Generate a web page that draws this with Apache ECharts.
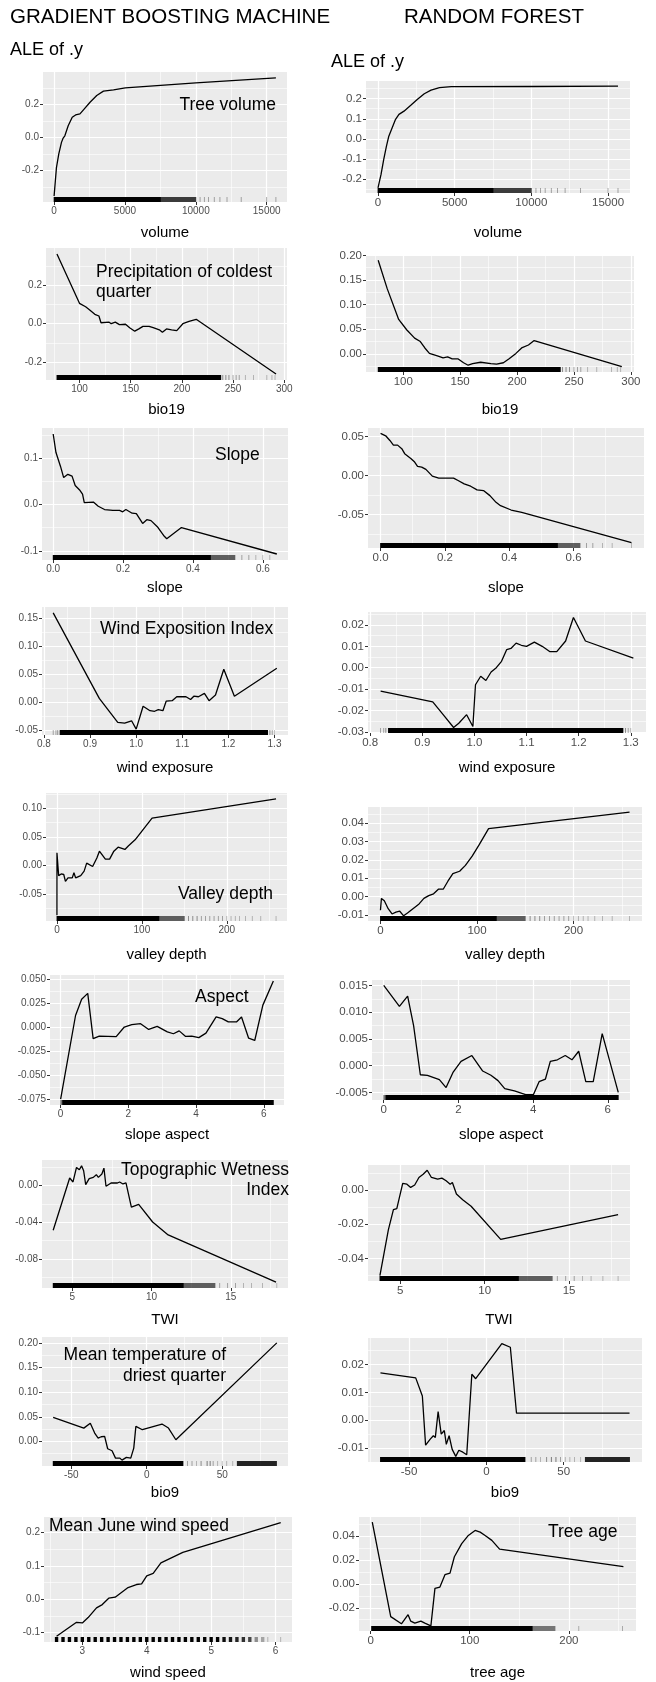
<!DOCTYPE html>
<html><head><meta charset="utf-8">
<script src="https://cdn.jsdelivr.net/npm/echarts@6/dist/echarts.min.js"></script>
<style>html,body{margin:0;padding:0;background:#fff}#c{width:656px;height:1682px}</style>
</head><body><div id="c"></div>
<script>
// ---------------- DATA ----------------
// Row 1: tree volume
const gbm_volume_x = [0, 166, 332, 521, 640, 758, 995, 1280, 1517, 1825, 2133, 2536, 3009, 3483, 4194, 5024, 10000, 15650];
const gbm_volume_y = [-0.355, -0.183, -0.1, -0.03, -0.004, 0.01, 0.071, 0.122, 0.136, 0.142, 0.173, 0.213, 0.254, 0.28, 0.288, 0.3, 0.33, 0.36];
const rf_volume_x = [0, 198, 374, 551, 705, 925, 1145, 1366, 1696, 2137, 2577, 3018, 3458, 4009, 4780, 10000, 15650];
const rf_volume_y = [-0.245, -0.178, -0.103, -0.037, 0.013, 0.055, 0.097, 0.122, 0.138, 0.167, 0.197, 0.225, 0.243, 0.255, 0.26, 0.261, 0.263];
const volume_xticks = ['0', '5000', '10000', '15000'];
const gbm_volume_yticks = ['-0.2', '0.0', '0.2'];
const rf_volume_yticks = ['-0.2', '-0.1', '0.0', '0.1', '0.2'];
const volume_rug = [[0, 7500, 1], [7500, 10000, 0.75], [10300, 10300, 0.4], [10600, 10600, 0.4], [10900, 10900, 0.4], [11300, 11300, 0.4], [11700, 11700, 0.4], [12200, 12200, 0.4], [13200, 13200, 0.4], [15000, 15000, 0.4], [15650, 15650, 0.4]];

// Row 2: bio19
const gbm_bio19_x = [78, 100, 106, 110, 115, 119, 121, 129, 131, 135, 139, 145, 149, 154, 158, 162, 168, 172, 178, 181, 185, 190, 195, 201, 207, 214, 292];
const gbm_bio19_y = [0.363, 0.106, 0.088, 0.071, 0.049, 0.04, 0.005, 0.008, 0.0, 0.008, -0.005, -0.003, -0.021, -0.039, -0.027, -0.014, -0.014, -0.021, -0.032, -0.045, -0.027, -0.032, -0.036, 0.0, 0.012, 0.023, -0.262];
const rf_bio19_x = [78, 86, 96, 103, 110, 115, 119, 123, 130, 135, 139, 143, 148, 153, 157, 161, 168, 177, 182, 188, 193, 199, 204, 210, 215, 292];
const rf_bio19_y = [0.19, 0.132, 0.07, 0.049, 0.032, 0.025, 0.012, 0.001, -0.004, -0.008, -0.006, -0.01, -0.01, -0.018, -0.023, -0.02, -0.017, -0.02, -0.021, -0.018, -0.01, 0.001, 0.012, 0.018, 0.027, -0.026];
const bio19_xticks = ['100', '150', '200', '250', '300'];
const gbm_bio19_yticks = ['-0.2', '0.0', '0.2'];
const rf_bio19_yticks = ['0.00', '0.05', '0.10', '0.15', '0.20'];
const bio19_rug = [[78, 238, 1], [240, 240, 0.5], [243, 243, 0.5], [246, 246, 0.5], [250, 250, 0.4], [253, 253, 0.4], [256, 256, 0.4], [262, 262, 0.3], [270, 270, 0.3], [283, 283, 0.3], [288, 288, 0.3], [291, 291, 0.3]];

// Row 3: slope
const gbm_slope_x = [0, 0.008, 0.021, 0.03, 0.042, 0.054, 0.063, 0.077, 0.084, 0.089, 0.115, 0.129, 0.147, 0.171, 0.19, 0.199, 0.208, 0.226, 0.238, 0.256, 0.268, 0.28, 0.298, 0.316, 0.325, 0.367, 0.64];
const gbm_slope_y = [0.152, 0.112, 0.082, 0.058, 0.065, 0.061, 0.041, 0.03, 0.022, 0.004, 0.005, -0.004, -0.011, -0.013, -0.013, -0.016, -0.011, -0.019, -0.02, -0.041, -0.033, -0.035, -0.048, -0.067, -0.074, -0.05, -0.107];
const rf_slope_x = [0, 0.016, 0.029, 0.04, 0.053, 0.066, 0.075, 0.095, 0.106, 0.115, 0.128, 0.141, 0.161, 0.181, 0.207, 0.227, 0.241, 0.26, 0.28, 0.3, 0.32, 0.34, 0.359, 0.373, 0.406, 0.439, 0.78];
const rf_slope_y = [0.054, 0.051, 0.045, 0.039, 0.039, 0.0345, 0.028, 0.0216, 0.0172, 0.0116, 0.0108, 0.0078, -0.0009, -0.0034, -0.0034, -0.0034, -0.0065, -0.0108, -0.0138, -0.0185, -0.0194, -0.0259, -0.0345, -0.0388, -0.0444, -0.0474, -0.0862];
const slope_xticks = ['0.0', '0.2', '0.4', '0.6'];
const gbm_slope_yticks = ['-0.1', '0.0', '0.1'];
const rf_slope_yticks = ['-0.05', '0.00', '0.05'];
const gbm_slope_rug = [[0, 0.45, 1], [0.45, 0.52, 0.6], [0.54, 0.54, 0.4], [0.56, 0.56, 0.4], [0.58, 0.58, 0.3], [0.6, 0.6, 0.3], [0.62, 0.62, 0.3]];
const rf_slope_rug = [[0, 0.55, 1], [0.55, 0.62, 0.6], [0.64, 0.64, 0.4], [0.66, 0.66, 0.4], [0.69, 0.69, 0.3], [0.72, 0.72, 0.3], [0.78, 0.78, 0.3]];

// Row 4: wind exposure
const gbm_wind_x = [0.82, 0.92, 0.96, 0.975, 0.99, 1.0, 1.015, 1.03, 1.04, 1.048, 1.058, 1.065, 1.078, 1.088, 1.108, 1.118, 1.125, 1.135, 1.148, 1.158, 1.172, 1.19, 1.213, 1.305];
const gbm_wind_y = [0.16, 0.007, -0.036, -0.037, -0.033, -0.048, -0.007, -0.015, -0.016, -0.013, -0.015, 0.002, 0.003, 0.01, 0.01, 0.005, 0.011, 0.01, 0.016, 0.003, 0.013, 0.059, 0.011, 0.061];
const rf_wind_x = [0.82, 0.92, 0.94, 0.96, 0.97, 0.985, 0.997, 1.002, 1.012, 1.022, 1.032, 1.042, 1.052, 1.062, 1.07, 1.08, 1.09, 1.1, 1.115, 1.13, 1.145, 1.158, 1.175, 1.19, 1.213, 1.305];
const rf_wind_y = [-0.011, -0.016, -0.022, -0.028, -0.026, -0.022, -0.0275, -0.008, -0.004, -0.006, -0.002, 0.0, 0.003, 0.0085, 0.009, 0.0115, 0.0105, 0.010, 0.012, 0.010, 0.0075, 0.0075, 0.0125, 0.0235, 0.0125, 0.0045];
const wind_xticks = ['0.8', '0.9', '1.0', '1.1', '1.2', '1.3'];
const gbm_wind_yticks = ['-0.05', '0.00', '0.05', '0.10', '0.15'];
const rf_wind_yticks = ['-0.03', '-0.02', '-0.01', '0.00', '0.01', '0.02'];
const wind_rug = [[0.82, 0.82, 0.4], [0.826, 0.826, 0.4], [0.83, 0.83, 0.5], [0.835, 1.285, 1], [1.29, 1.29, 0.5], [1.295, 1.295, 0.4], [1.3, 1.3, 0.3]];

// Row 5: valley depth
const gbm_valley_x = [0, 0.01, 2, 5, 8, 10, 13, 18, 20, 22, 28, 32, 35, 42, 47, 50, 57, 62, 67, 72, 80, 84, 92, 112, 258];
const gbm_valley_y = [-0.0875, 0.022, -0.018, -0.015, -0.016, -0.028, -0.022, -0.022, -0.013, -0.022, -0.018, -0.01, 0.004, -0.002, 0.013, 0.025, 0.011, 0.011, 0.025, 0.032, 0.028, 0.034, 0.045, 0.083, 0.117];
const rf_valley_x = [0, 1, 4, 8, 12, 16, 20, 24, 28, 34, 40, 45, 50, 55, 60, 65, 70, 75, 82, 88, 95, 102, 112, 258];
const rf_valley_y = [-0.0075, -0.001, -0.0023, -0.0066, -0.0095, -0.0085, -0.008, -0.0105, -0.009, -0.0065, -0.004, -0.001, 0.0005, 0.0015, 0.004, 0.004, 0.0085, 0.0125, 0.0138, 0.017, 0.022, 0.028, 0.037, 0.046];
const valley_xticks = ['0', '100', '200'];
const gbm_valley_yticks = ['-0.05', '0.00', '0.05', '0.10'];
const rf_valley_yticks = ['-0.01', '0.00', '0.01', '0.02', '0.03', '0.04'];
const valley_rug = [[0, 120, 1], [120, 150, 0.6], [155, 155, 0.5], [160, 160, 0.5], [165, 165, 0.5], [170, 170, 0.4], [175, 175, 0.4], [180, 180, 0.4], [185, 185, 0.4], [190, 190, 0.4], [195, 195, 0.4], [200, 200, 0.3], [205, 205, 0.3], [210, 210, 0.3], [215, 215, 0.3], [222, 222, 0.3], [230, 230, 0.3], [240, 240, 0.3], [258, 258, 0.3]];

// Row 6: slope aspect
const gbm_aspect_x = [0, 0.44, 0.62, 0.8, 0.96, 1.14, 1.64, 1.88, 2.1, 2.36, 2.6, 2.85, 3.15, 3.33, 3.5, 3.69, 3.87, 4.08, 4.29, 4.59, 4.77, 4.95, 5.19, 5.34, 5.55, 5.73, 5.97, 6.28];
const gbm_aspect_y = [-0.075, 0.012, 0.029, 0.035, -0.012, -0.0095, -0.01, 0.0, 0.0025, 0.0035, -0.0025, 0.0007, -0.005, -0.007, -0.004, -0.0098, -0.0095, -0.011, -0.0063, 0.0105, 0.0088, 0.0053, 0.0053, 0.0105, -0.0116, -0.014, 0.0228, 0.048];
const rf_aspect_x = [0, 0.42, 0.64, 0.8, 0.98, 1.17, 1.49, 1.67, 1.86, 2.07, 2.36, 2.65, 2.87, 3.06, 3.24, 3.5, 3.8, 4.01, 4.16, 4.33, 4.46, 4.65, 4.86, 5.04, 5.22, 5.41, 5.61, 5.85, 6.28];
const rf_aspect_y = [0.015, 0.0111, 0.013, 0.0075, -0.0017, -0.0018, -0.0026, -0.0041, -0.0012, 0.0008, 0.0019, -0.001, -0.0018, -0.0028, -0.0043, -0.0047, -0.0054, -0.0054, -0.003, -0.0025, 0.0008, 0.0011, 0.0019, 0.0011, 0.0027, -0.003, -0.003, 0.006, -0.005];
const aspect_xticks = ['0', '2', '4', '6'];
const gbm_aspect_yticks = ['-0.075', '-0.050', '-0.025', '0.000', '0.025', '0.050'];
const rf_aspect_yticks = ['-0.005', '0.000', '0.005', '0.010', '0.015'];
const aspect_rug = [[0, 0.06, 0.5], [0.06, 6.28, 1]];

// Row 7: TWI
const gbm_twi_x = [3.8, 4.84, 5.05, 5.27, 5.45, 5.59, 5.72, 5.85, 6.07, 6.33, 6.52, 6.65, 6.87, 7.0, 7.13, 7.45, 7.85, 7.99, 8.2, 8.39, 8.73, 9.19, 10.07, 11.05, 17.85];
const gbm_twi_y = [-0.0486, 0.0083, 0.004, 0.0198, 0.0173, 0.0216, 0.0162, 0.0011, 0.0076, 0.009, 0.0119, 0.009, 0.0126, 0.0191, -0.0007, 0.0029, 0.0029, 0.004, 0.0018, 0.0029, -0.0234, -0.0205, -0.0396, -0.0537, -0.1052];
const rf_twi_x = [3.8, 4.3, 4.6, 4.8, 5.15, 5.4, 5.62, 5.86, 6.11, 6.36, 6.6, 6.85, 7.22, 7.47, 7.72, 7.96, 8.09, 8.33, 8.7, 9.2, 10.95, 17.9];
const rf_twi_y = [-0.05, -0.0233, -0.0115, -0.0109, 0.0038, 0.0034, 0.0015, 0.0029, 0.0073, 0.0092, 0.0115, 0.0073, 0.0063, 0.0069, 0.0054, 0.0034, 0.0044, -0.0023, -0.0057, -0.0095, -0.0288, -0.0143];
const twi_xticks = ['5', '10', '15'];
const gbm_twi_yticks = ['-0.08', '-0.04', '0.00'];
const rf_twi_yticks = ['-0.04', '-0.02', '0.00'];
const twi_rug = [[3.8, 12, 1], [12, 14, 0.6], [14.3, 14.3, 0.4], [14.8, 14.8, 0.4], [15.3, 15.3, 0.4], [15.8, 15.8, 0.3], [16.3, 16.3, 0.3], [17, 17, 0.3], [17.9, 17.9, 0.3]];

// Row 8: bio9
const gbm_bio9_x = [-62, -41.7, -37.4, -34.5, -32.2, -30.2, -27.9, -25.9, -23, -20.7, -17.8, -16.4, -13.5, -10.6, -8.6, -7.2, -2.9, 10.1, 14.4, 19.3, 86.2];
const gbm_bio9_y = [0.0488, 0.027, 0.037, 0.017, 0.0068, 0.0095, 0.0102, -0.0149, -0.019, -0.0339, -0.0339, -0.038, -0.0325, -0.0339, -0.0136, 0.0305, 0.0237, 0.0353, 0.0271, 0.0034, 0.2];
const rf_bio9_x = [-68.5, -45.7, -41.4, -39.3, -36.3, -34.3, -33, -31.2, -29.2, -27.2, -25.9, -24.1, -22.1, -19.8, -17.8, -15.2, -12.7, -9.4, -6.9, 10, 15.5, 19.5, 92.6];
const rf_bio9_y = [0.017, 0.0152, 0.0087, -0.009, -0.0068, -0.0056, -0.0062, 0.0031, -0.005, -0.0037, -0.0087, -0.0056, -0.0105, -0.013, -0.0108, -0.0115, -0.0124, 0.0165, 0.0149, 0.0275, 0.0262, 0.0025, 0.0025];
const bio9_xticks = ['-50', '0', '50'];
const gbm_bio9_yticks = ['0.00', '0.05', '0.10', '0.15', '0.20'];
const rf_bio9_yticks = ['-0.01', '0.00', '0.01', '0.02'];
const gbm_bio9_rug = [[-62, 24, 1], [27, 27, 0.4], [30, 30, 0.4], [33, 33, 0.3], [36, 36, 0.5], [40, 40, 0.6], [42, 42, 0.6], [44, 44, 0.4], [47, 47, 0.3], [50, 50, 0.3], [53, 53, 0.3], [57, 57, 0.3], [60, 86, 0.85]];
const rf_bio9_rug = [[-68.5, 25, 1], [29, 29, 0.4], [32, 32, 0.4], [35, 35, 0.3], [39, 39, 0.5], [42, 42, 0.6], [45, 45, 0.6], [48, 48, 0.4], [51, 51, 0.3], [54, 54, 0.3], [57, 57, 0.3], [61, 61, 0.3], [64, 92.6, 0.85]];

// Row 9: wind speed (GBM) and tree age (RF)
const gbm_windspeed_x = [2.6, 2.91, 3.0, 3.09, 3.22, 3.31, 3.41, 3.51, 3.71, 3.84, 3.92, 4.0, 4.1, 4.22, 4.56, 6.08];
const gbm_windspeed_y = [-0.111, -0.069, -0.071, -0.055, -0.026, -0.016, 0.003, 0.006, 0.035, 0.044, 0.046, 0.07, 0.077, 0.109, 0.14, 0.229];
const windspeed_xticks = ['3', '4', '5', '6'];
const gbm_windspeed_yticks = ['-0.1', '0.0', '0.1', '0.2'];
const windspeed_rug = [[2.58, 2.62, 1], [2.68, 2.72, 1], [2.78, 2.82, 1], [2.88, 2.92, 1], [2.98, 3.02, 1], [3.08, 3.12, 1], [3.18, 3.22, 1], [3.28, 3.32, 1], [3.38, 3.42, 1], [3.48, 3.52, 1], [3.58, 3.62, 1], [3.68, 3.72, 1], [3.78, 3.82, 1], [3.88, 3.92, 1], [3.98, 4.02, 1], [4.08, 4.12, 1], [4.18, 4.22, 1], [4.28, 4.32, 1], [4.38, 4.42, 1], [4.48, 4.52, 1], [4.58, 4.62, 1], [4.68, 4.72, 1], [4.78, 4.82, 1], [4.88, 4.92, 1], [4.98, 5.02, 1], [5.08, 5.12, 1], [5.18, 5.22, 0.95], [5.28, 5.32, 0.9], [5.38, 5.42, 0.85], [5.48, 5.52, 0.8], [5.58, 5.62, 0.7], [5.68, 5.72, 0.4], [5.78, 5.82, 0.3], [5.88, 5.88, 0.3], [6.08, 6.08, 0.3]];
const rf_treeage_x = [1.7, 20.3, 31.1, 37.8, 40.5, 44.6, 50.7, 54.7, 60.8, 64.9, 69.9, 75, 80.1, 84.5, 91.9, 98.6, 105.4, 110.5, 115.5, 122.3, 130.1, 255];
const rf_treeage_y = [0.0516, -0.0274, -0.0334, -0.0258, -0.0312, -0.0329, -0.0312, -0.0329, -0.0351, -0.0038, -0.0027, 0.0077, 0.009, 0.0227, 0.0337, 0.0405, 0.0447, 0.0433, 0.0405, 0.0364, 0.029, 0.0145];
const treeage_xticks = ['0', '100', '200'];
const rf_treeage_yticks = ['-0.02', '0.00', '0.02', '0.04'];
const treeage_rug = [[1, 163, 1], [163, 186, 0.5], [210, 210, 0.35], [254, 254, 0.35]];

// ---------------- PANELS ----------------
const panels = [
  {x: gbm_volume_x, y: gbm_volume_y, xt: volume_xticks, yt: gbm_volume_yticks, rug: volume_rug, name: 'volume', m: 'gbm'},
  {x: rf_volume_x, y: rf_volume_y, xt: volume_xticks, yt: rf_volume_yticks, rug: volume_rug, name: 'volume', m: 'rf'},
  {x: gbm_bio19_x, y: gbm_bio19_y, xt: bio19_xticks, yt: gbm_bio19_yticks, rug: bio19_rug, name: 'bio19', m: 'gbm'},
  {x: rf_bio19_x, y: rf_bio19_y, xt: bio19_xticks, yt: rf_bio19_yticks, rug: bio19_rug, name: 'bio19', m: 'rf'},
  {x: gbm_slope_x, y: gbm_slope_y, xt: slope_xticks, yt: gbm_slope_yticks, rug: gbm_slope_rug, name: 'slope', m: 'gbm'},
  {x: rf_slope_x, y: rf_slope_y, xt: slope_xticks, yt: rf_slope_yticks, rug: rf_slope_rug, name: 'slope', m: 'rf'},
  {x: gbm_wind_x, y: gbm_wind_y, xt: wind_xticks, yt: gbm_wind_yticks, rug: wind_rug, name: 'wind exposure', m: 'gbm'},
  {x: rf_wind_x, y: rf_wind_y, xt: wind_xticks, yt: rf_wind_yticks, rug: wind_rug, name: 'wind exposure', m: 'rf'},
  {x: gbm_valley_x, y: gbm_valley_y, xt: valley_xticks, yt: gbm_valley_yticks, rug: valley_rug, name: 'valley depth', m: 'gbm'},
  {x: rf_valley_x, y: rf_valley_y, xt: valley_xticks, yt: rf_valley_yticks, rug: valley_rug, name: 'valley depth', m: 'rf'},
  {x: gbm_aspect_x, y: gbm_aspect_y, xt: aspect_xticks, yt: gbm_aspect_yticks, rug: aspect_rug, name: 'slope aspect', m: 'gbm'},
  {x: rf_aspect_x, y: rf_aspect_y, xt: aspect_xticks, yt: rf_aspect_yticks, rug: aspect_rug, name: 'slope aspect', m: 'rf'},
  {x: gbm_twi_x, y: gbm_twi_y, xt: twi_xticks, yt: gbm_twi_yticks, rug: twi_rug, name: 'TWI', m: 'gbm'},
  {x: rf_twi_x, y: rf_twi_y, xt: twi_xticks, yt: rf_twi_yticks, rug: twi_rug, name: 'TWI', m: 'rf'},
  {x: gbm_bio9_x, y: gbm_bio9_y, xt: bio9_xticks, yt: gbm_bio9_yticks, rug: gbm_bio9_rug, name: 'bio9', m: 'gbm'},
  {x: rf_bio9_x, y: rf_bio9_y, xt: bio9_xticks, yt: rf_bio9_yticks, rug: rf_bio9_rug, name: 'bio9', m: 'rf'},
  {x: gbm_windspeed_x, y: gbm_windspeed_y, xt: windspeed_xticks, yt: gbm_windspeed_yticks, rug: windspeed_rug, name: 'wind speed', m: 'gbm'},
  {x: rf_treeage_x, y: rf_treeage_y, xt: treeage_xticks, yt: rf_treeage_yticks, rug: treeage_rug, name: 'tree age', m: 'rf'}
];

// ---------------- LAYOUT (pixels) ----------------
// box: [left, top, right, bottom], ty: x-axis title centre y
const layout = [
  {box: [43, 72, 287, 202], ty: 233}, {box: [366, 81, 630, 193], ty: 233},
  {box: [46, 248, 287, 380], ty: 410}, {box: [366, 255, 634, 372], ty: 410},
  {box: [42, 428, 288, 560], ty: 588}, {box: [368, 428, 644, 548], ty: 588},
  {box: [42, 607, 288, 735], ty: 768}, {box: [368, 612, 646, 733], ty: 768},
  {box: [46, 793, 287, 921], ty: 955}, {box: [368, 807, 642, 921], ty: 955},
  {box: [50, 975, 284, 1105], ty: 1135}, {box: [372, 980, 630, 1100], ty: 1135},
  {box: [42, 1160, 288, 1288], ty: 1320}, {box: [368, 1165, 630, 1281], ty: 1320},
  {box: [42, 1337, 288, 1466], ty: 1493}, {box: [368, 1338, 642, 1462], ty: 1493},
  {box: [44, 1517, 292, 1642], ty: 1673}, {box: [359, 1517, 636, 1631], ty: 1673}
];

const FONT = "'Liberation Sans', Arial, Helvetica, sans-serif";
const texts = [
  {t: 'GRADIENT BOOSTING MACHINE', x: 10, y: 17, s: 20.5, a: 'left'},
  {t: 'RANDOM FOREST', x: 404, y: 17, s: 20.5, a: 'left'},
  {t: 'ALE of .y', x: 10, y: 50, s: 18, a: 'left'},
  {t: 'ALE of .y', x: 331, y: 62, s: 18, a: 'left'},
  {t: 'Tree volume', x: 276, y: 105, s: 17.5, a: 'right'},
  {t: 'Precipitation of coldest', x: 96, y: 272, s: 17.5, a: 'left'},
  {t: 'quarter', x: 96, y: 292, s: 17.5, a: 'left'},
  {t: 'Slope', x: 215, y: 455, s: 17.5, a: 'left'},
  {t: 'Wind Exposition Index', x: 100, y: 629, s: 17.5, a: 'left'},
  {t: 'Valley depth', x: 178, y: 894, s: 17.5, a: 'left'},
  {t: 'Aspect', x: 195, y: 997, s: 17.5, a: 'left'},
  {t: 'Topographic Wetness', x: 289, y: 1170, s: 17.5, a: 'right'},
  {t: 'Index', x: 289, y: 1190, s: 17.5, a: 'right'},
  {t: 'Mean temperature of', x: 226, y: 1355, s: 17.5, a: 'right'},
  {t: 'driest quarter', x: 226, y: 1376, s: 17.5, a: 'right'},
  {t: 'Mean June wind speed', x: 49, y: 1526, s: 17.5, a: 'left'},
  {t: 'Tree age', x: 548, y: 1532, s: 17.5, a: 'left'}
];

// ---------------- BUILD ----------------
function expand(lo, hi) { const d = (hi - lo) * 0.05; return [lo - d, hi + d]; }
function minorVals(ticks, lo, hi) {
  const st = ticks[1] - ticks[0]; const out = [];
  let v = ticks[0] - st / 2;
  while (v - st >= lo) v -= st;
  for (; v <= hi + 1e-12; v += st) if (v >= lo) out.push(+v.toFixed(10));
  return out;
}
function fmtFor(labels) {
  return function (v) {
    for (const s of labels) if (Math.abs(parseFloat(s) - v) < 1e-9) return s;
    return '';
  };
}

const grid = [], xAxis = [], yAxis = [], series = [], graphic = [];
panels.forEach(function (p, i) {
  const L = layout[i], b = L.box;
  const rf = p.m === 'rf';
  const rugVals = p.rug.flatMap(r => [r[0], r[1]]);
  const xr = expand(Math.min(Math.min(...p.x), Math.min(...rugVals)), Math.max(Math.max(...p.x), Math.max(...rugVals)));
  const yr = expand(Math.min(...p.y), Math.max(...p.y));
  const xt = p.xt.map(Number), yt = p.yt.map(Number);
  const tickFont = rf ? 11.5 : 10;
  grid.push({left: b[0], top: b[1], width: b[2] - b[0], height: b[3] - b[1], show: true, backgroundColor: '#EBEBEB', borderWidth: 0, containLabel: false});
  const common = {type: 'value', gridIndex: i, axisLine: {show: false, onZero: false}, animation: false};
  xAxis.push(Object.assign({}, common, {
    min: xr[0], max: xr[1], position: 'bottom',
    axisTick: {show: true, length: 3, lineStyle: {color: '#333', width: 1}, customValues: xt},
    axisLabel: {customValues: xt, formatter: fmtFor(p.xt), fontSize: tickFont, color: '#4D4D4D', margin: 4, fontFamily: FONT},
    splitLine: {show: true, lineStyle: {color: '#FFFFFF', width: 1.2}}
  }));
  const xm = minorVals(xt, xr[0], xr[1]);
  xAxis.push(Object.assign({}, common, {
    min: xr[0], max: xr[1], position: 'top',
    axisTick: {show: false, customValues: xm},
    axisLabel: {show: false, customValues: xm},
    splitLine: {show: true, lineStyle: {color: '#FFFFFF', width: 0.6}}
  }));
  yAxis.push(Object.assign({}, common, {
    min: yr[0], max: yr[1], position: 'left',
    axisTick: {show: true, length: 3, lineStyle: {color: '#333', width: 1}, customValues: yt},
    axisLabel: {customValues: yt, formatter: fmtFor(p.yt), fontSize: tickFont, color: '#4D4D4D', margin: 4, fontFamily: FONT},
    splitLine: {show: true, lineStyle: {color: '#FFFFFF', width: 1.2}}
  }));
  const ym = minorVals(yt, yr[0], yr[1]);
  yAxis.push(Object.assign({}, common, {
    min: yr[0], max: yr[1], position: 'right',
    axisTick: {show: false, customValues: ym},
    axisLabel: {show: false, customValues: ym},
    splitLine: {show: true, lineStyle: {color: '#FFFFFF', width: 0.6}}
  }));
  const yMin = yr[0];
  series.push({
    type: 'custom', xAxisIndex: 2 * i, yAxisIndex: 2 * i, silent: true, animation: false, z: 2,
    data: p.rug.map(r => [r[0], r[1], r[2]]),
    encode: {x: [0, 1]},
    renderItem: function (params, api) {
      const cs = params.coordSys;
      const x0 = api.coord([api.value(0), yMin])[0];
      const x1 = api.coord([api.value(1), yMin])[0];
      const h = 5;
      return {type: 'rect', shape: {x: x0 - 0.4, y: cs.y + cs.height - h, width: Math.max(x1 - x0, 0) + 0.8, height: h},
        style: {fill: 'rgba(0,0,0,' + api.value(2) + ')'}};
    }
  });
  series.push({
    type: 'line', xAxisIndex: 2 * i, yAxisIndex: 2 * i, data: p.x.map((v, k) => [v, p.y[k]]),
    showSymbol: false, symbol: 'none', silent: true, animation: false, z: 3,
    lineStyle: {color: '#000', width: 1.3}
  });
  graphic.push({type: 'text', x: (b[0] + b[2]) / 2, y: L.ty, silent: true,
    style: {text: p.name, font: '15px ' + FONT, fill: '#000', align: 'center', verticalAlign: 'middle', textAlign: 'center', textVerticalAlign: 'middle'}});
});
texts.forEach(function (t) {
  graphic.push({type: 'text', x: t.x, y: t.y, silent: true, z: 10,
    style: {text: t.t, font: t.s + 'px ' + FONT, fill: '#000', align: t.a, verticalAlign: 'middle', textAlign: t.a, textVerticalAlign: 'middle'}});
});

const chart = echarts.init(document.getElementById('c'), null, {renderer: 'canvas'});
chart.setOption({animation: false, backgroundColor: '#FFFFFF', grid, xAxis, yAxis, series, graphic});
</script></body></html>
